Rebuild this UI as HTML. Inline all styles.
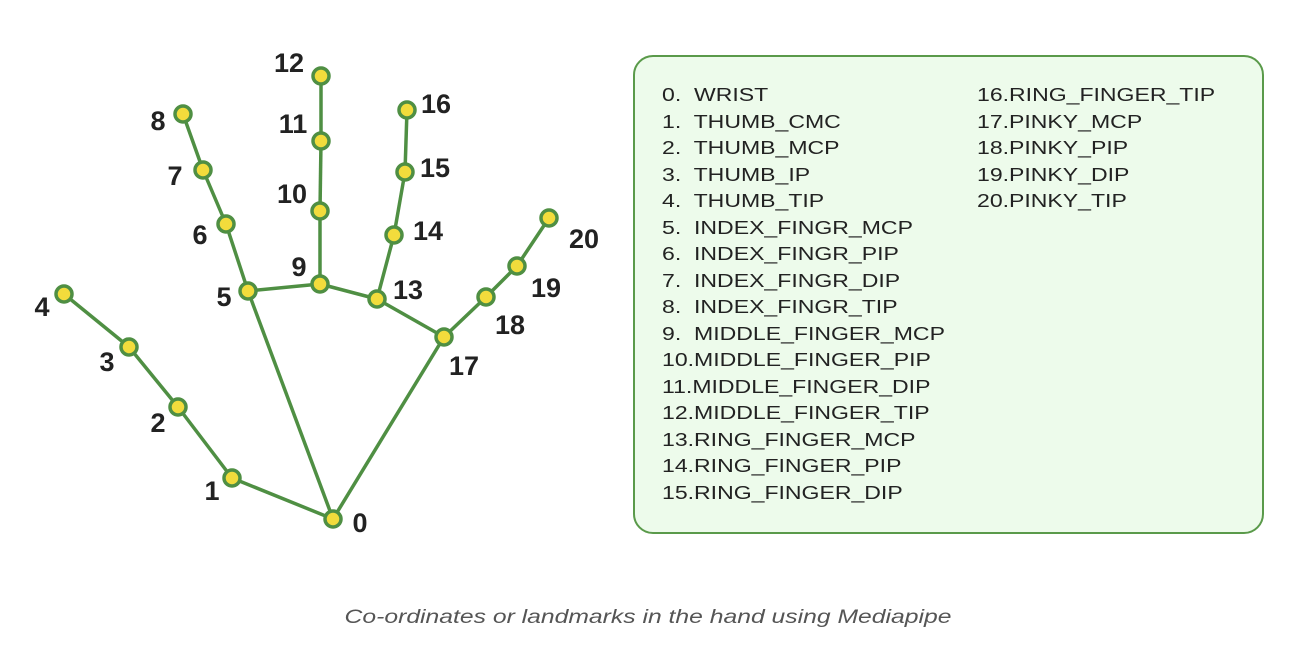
<!DOCTYPE html>
<html><head><meta charset="utf-8"><style>
body{margin:0;background:#fff;width:1304px;height:652px;overflow:hidden;font-family:"Liberation Sans","DejaVu Sans",sans-serif}
#box{position:absolute;left:633px;top:55px;width:627px;height:475px;border:2.5px solid #5a9a4a;border-radius:20px;background:#edfbeb}
.item{position:absolute;font-size:18px;color:#222;white-space:pre;line-height:20px;transform:scaleX(1.28);transform-origin:left center}
#cap{position:absolute;left:648px;top:607px;font-style:italic;color:#555;font-size:19px;white-space:nowrap;transform:translateX(-50%) scaleX(1.3)}
</style></head><body>
<svg id="hand" width="1304" height="652" style="position:absolute;left:0;top:0"></svg>
<div id="box"></div>
<div id="cap">Co-ordinates or landmarks in the hand using Mediapipe</div>
<script>
const ids=[0,1,2,3,4,5,6,7,8,9,10,11,12,13,14,15,16,17,18,19,20];
const xs=[333,232,178,129,64,248,226,203,183,320,320,321,321,377,394,405,407,444,486,517,549];
const ys=[519,478,407,347,294,291,224,170,114,284,211,141,76,299,235,172,110,337,297,266,218];
const lx=[360,212,158,107,42,224,200,175,158,299,292,293,289,408,428,435,436,464,510,546,584];
const ly=[523,491,423,362,307,297,235,176,121,267,194,124,63,290,231,168,104,366,325,288,239];
const edgesA=[0,1,2,3,0,5,6,7,5,9,10,11,9,13,14,15,13,0,17,18,19];
const edgesB=[1,2,3,4,5,6,7,8,9,10,11,12,13,14,15,16,17,17,18,19,20];
const names=["WRIST","THUMB_CMC","THUMB_MCP","THUMB_IP","THUMB_TIP","INDEX_FINGR_MCP","INDEX_FINGR_PIP","INDEX_FINGR_DIP","INDEX_FINGR_TIP","MIDDLE_FINGER_MCP","MIDDLE_FINGER_PIP","MIDDLE_FINGER_DIP","MIDDLE_FINGER_TIP","RING_FINGER_MCP","RING_FINGER_PIP","RING_FINGER_DIP","RING_FINGER_TIP","PINKY_MCP","PINKY_PIP","PINKY_DIP","PINKY_TIP"];
const NS="http://www.w3.org/2000/svg",svg=document.getElementById('hand');
edgesA.forEach((a,i)=>{const b=edgesB[i];const l=document.createElementNS(NS,'line');
l.setAttribute('x1',xs[a]);l.setAttribute('y1',ys[a]);l.setAttribute('x2',xs[b]);l.setAttribute('y2',ys[b]);
l.setAttribute('stroke','#4f8f43');l.setAttribute('stroke-width','3.5');


svg.appendChild(l);});
ids.forEach((id,i)=>{const c=document.createElementNS(NS,'circle');
c.setAttribute('cx',xs[i]);c.setAttribute('cy',ys[i]);c.setAttribute('r','8');
c.setAttribute('fill','#f2dc3c');c.setAttribute('stroke','#4f8f43');c.setAttribute('stroke-width','3.5');


svg.appendChild(c);
const t=document.createElementNS(NS,'text');t.setAttribute('x',lx[i]);t.setAttribute('y',ly[i]+9);
t.setAttribute('text-anchor','middle');t.setAttribute('font-size','27');t.setAttribute('font-weight','bold');
t.setAttribute('fill','#222');t.setAttribute('font-family','Liberation Sans, sans-serif');t.textContent=id;


svg.appendChild(t);});
names.forEach((n,i)=>{const d=document.createElement('div');d.className='item';
const col=i<16?0:1,row=i<16?i:i-16;
d.style.left=(col?977:662)+'px';d.style.top=(85+row*26.5)+'px';
d.textContent=(i<10?i+'.  ':i+'.')+n;


document.body.appendChild(d);});
</script>
</body></html>
